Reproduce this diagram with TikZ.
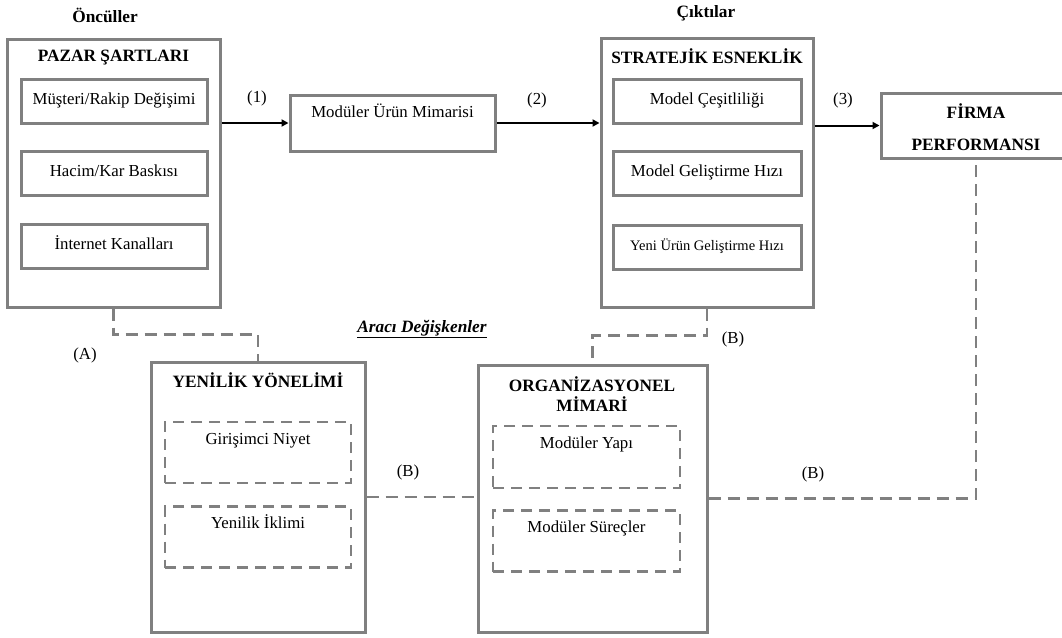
\documentclass[tikz,border=0pt]{standalone}
\usepackage{fontspec}
\setmainfont{Liberation Serif}
\usetikzlibrary{arrows.meta}

\definecolor{boxgray}{HTML}{808080}

\begin{document}
\begin{tikzpicture}[
		x=1pt,y=-1pt,
		every node/.style={font=\fontsize{16.8}{20}\selectfont,inner sep=0pt},
		bigbox/.style={draw=boxgray,line width=3pt},
		solidsub/.style={draw=boxgray,line width=3pt,text height=25pt,text depth=19pt},
		dashsub/.style={draw=boxgray,line width=2.6pt,dash pattern=on 11pt off 7pt,text height=22pt,text depth=39pt},
		title/.style={font=\fontsize{17.3}{20}\selectfont\bfseries},
		conn/.style={draw=boxgray,line width=2.6pt,dash pattern=on 12pt off 7pt},
		arrow/.style={line width=2pt,-{Triangle[length=7pt,width=7pt]}}]
		
		\useasboundingbox (0,0) rectangle (1062,637);
		
		% headings
		\node[title] (onc) at (105,15) {Öncüller};
		\node[title] (cik) at (706,13) {Çıktılar};
		\node[font=\fontsize{17.3}{20}\selectfont\bfseries\itshape] (araci) at (422,329) {\underline{Aracı Değişkenler}};
		
		% market conditions
		\node[bigbox,minimum width=213pt,minimum height=268pt] (pazar) at (113.5,173) {};
		\node[title] (pazart) at (113.5,58) {PAZAR ŞARTLARI};
		\node[solidsub,minimum width=186pt] (musteri) at (114,101) {Müşteri/Rakip Değişimi};
		\node[solidsub,minimum width=186pt] (hacim) at (114,173) {Hacim/Kar Baskısı};
		\node[solidsub,minimum width=186pt] (internet) at (114,246.5) {İnternet Kanalları};
		
		% product architecture
		\node[draw=boxgray,line width=3pt,minimum width=205pt,minimum height=56pt,
			text height=22pt,text depth=34pt] (urun) at (392.5,123) {Modüler Ürün Mimarisi};
		
		% strategic flexibility
		\node[bigbox,minimum width=212pt,minimum height=269pt] (strat) at (707,172.5) {};
		\node[title] (stratt) at (707,56) {STRATEJİK ESNEKLİK};
		\node[solidsub,minimum width=188pt] (cesit) at (707,101.5) {Model Çeşitliliği};
		\node[solidsub,minimum width=188pt] (gelis) at (707,173.5) {Model Geliştirme Hızı};
		\node[solidsub,minimum width=188pt,font=\fontsize{14.5}{17}\selectfont] (yeni) at (707,247) {Yeni Ürün Geliştirme Hızı};
		
		% firm performance
		\node[bigbox,minimum width=190pt,minimum height=65pt] (firma) at (976,125.5) {};
		\node[title,align=center] (firmat) at (976,127) {FİRMA\\[12pt]PERFORMANSI};
		
		% innovation orientation
		\node[bigbox,minimum width=214pt,minimum height=270pt] (yenilik) at (258,497) {};
		\node[title] (yenilikt) at (258,380) {YENİLİK YÖNELİMİ};
		\node[dashsub,minimum width=186pt,minimum height=61pt] (niyet) at (258,452.5) {Girişimci Niyet};
		\node[dashsub,minimum width=186pt,minimum height=60pt] (iklim) at (258,537) {Yenilik İklimi};
		
		% organisational architecture
		\node[bigbox,minimum width=229pt,minimum height=267pt] (org) at (592.5,498.5) {};
		\node[title,align=center] (orgt) at (592,394) {ORGANİZASYONEL\\MİMARİ};
		\node[dashsub,minimum width=187pt,minimum height=62pt] (yapi) at (586.5,457) {Modüler Yapı};
		\node[dashsub,minimum width=187pt,minimum height=60pt] (surec) at (586.5,541) {Modüler Süreçler};
		
		% arrows
		\draw[arrow] (urun.west -| pazar.east) -- (urun.west);
		\draw[arrow] (urun.east) -- (urun.east -| strat.west);
		\draw[arrow] (firma.west -| strat.east) -- (firma.west);
		\node (l1) at (257,98) {(1)};
		\node (l2) at (537,100) {(2)};
		\node (l3) at (843,100) {(3)};
		
		% dashed links
		\draw[conn] (pazar.south) -- ++(0,26) -| (yenilik.north);
		\draw[conn] (strat.south) -- ++(0,27) -| (org.north);
		\draw[conn] (yenilik.east) -- (yenilik.east -| org.west);
		\draw[conn] (org.east) -| (firma.south);
		\node (la) at (85,355) {(A)};
		\node (lb1) at (733,339) {(B)};
		\node (lb2) at (408,472) {(B)};
		\node (lb3) at (813,474) {(B)};
		
\end{tikzpicture}
\end{document}
